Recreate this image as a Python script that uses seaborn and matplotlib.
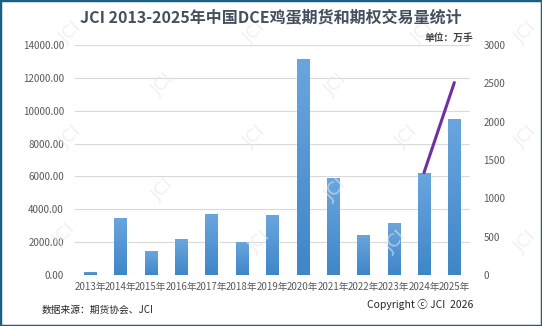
import numpy as np
import pandas as pd
import matplotlib
matplotlib.use("Agg")
import matplotlib.pyplot as plt
import seaborn as sns
from matplotlib.patches import Rectangle

years = ["2013年", "2014年", "2015年", "2016年", "2017年", "2018年", "2019年",
         "2020年", "2021年", "2022年", "2023年", "2024年", "2025年"]
futures = [200, 3470, 1460, 2190, 3710, 2010, 3650, 13130, 5900, 2450, 3180, 6210, 9500]
options = [np.nan] * 11 + [1335, 2510]
left_ticks = [0, 2000, 4000, 6000, 8000, 10000, 12000, 14000]
right_ticks = [0, 500, 1000, 1500, 2000, 2500, 3000]

sns.set_theme(style="white")
plt.rcParams['font.family'] = ['Noto Sans CJK SC', 'DejaVu Sans']

df = pd.DataFrame({"year": years, "futures": futures, "options": options})

fig = plt.figure(figsize=(5.42, 3.26), dpi=100)
ax = fig.add_axes([75 / 542, 1 - 275 / 326, (469.5 - 75) / 542, 230 / 326])

sns.barplot(data=df, x="year", y="futures", ax=ax, color="#5b9bd5", width=0.4,
            saturation=1, zorder=3)

# gradient fill on bars
grad = np.linspace(0, 1, 256).reshape(-1, 1)
from matplotlib.colors import LinearSegmentedColormap
cmap = LinearSegmentedColormap.from_list("g", ["#3f86c8", "#6aa6de"])
for p in ax.patches:
    x0, y0 = p.get_x(), p.get_y()
    w, h = p.get_width(), p.get_height()
    im = ax.imshow(grad, cmap=cmap, aspect="auto", origin="lower",
                   extent=[x0, x0 + w, y0, y0 + h], zorder=3.1)
    im.set_clip_path(p)
    p.set_alpha(1)

ax.set_xlim(-0.5, len(years) - 0.5)
ax.set_ylim(0, 14000)
ax.set_yticks(left_ticks)
ax.set_yticklabels([f"{v:.2f}" for v in left_ticks])
ax.grid(axis="y", color="#d9d9d9", linewidth=0.8, zorder=0)
ax.set_axisbelow(True)
for s in ax.spines.values():
    s.set_visible(False)
ax.set_xlabel("")
ax.set_ylabel("")
ax.tick_params(axis="both", length=0, labelsize=7, labelcolor="#595959")
ax.tick_params(axis="y", pad=8)
ax.tick_params(axis="x", pad=5)

ax2 = ax.twinx()
ax2.plot(np.arange(len(years)), df["options"], color="#7030a0", linewidth=2.2, zorder=5)
ax2.set_ylim(0, 3000)
ax2.set_yticks(right_ticks)
ax2.set_yticklabels([str(v) for v in right_ticks])
ax2.tick_params(axis="y", length=0, labelsize=7, labelcolor="#595959", pad=10)
for s in ax2.spines.values():
    s.set_visible(False)
ax2.grid(False)

# watermarks
for (wx, wy) in [(0.13, 0.9), (0.13, 0.58), (0.12, 0.28), (0.47, 0.9), (0.47, 0.58),
                 (0.48, 0.26), (0.78, 0.9), (0.75, 0.58), (0.73, 0.26), (0.97, 0.9), (0.97, 0.58),
                 (0.97, 0.26), (0.3, 0.74), (0.62, 0.74), (0.3, 0.42), (0.62, 0.42)]:
    fig.text(wx, wy, "JCI", rotation=45, fontsize=13, color="#e8e8e8", alpha=0.6,
             ha="center", va="center", zorder=0, family=["DejaVu Sans"])

fig.text(0.5, 1 - 17 / 326, "JCI 2013-2025年中国DCE鸡蛋期货和期权交易量统计",
         ha="center", va="center", fontsize=11.5, fontweight="bold", color="#44505f")
fig.text(473 / 542, 1 - 38 / 326, "单位：万手", ha="right", va="center",
         fontsize=7, color="#404040", fontweight="bold")
fig.text(42 / 542, 1 - 310 / 326, "数据来源：期货协会、JCI", ha="left", va="center",
         fontsize=7, color="#262626")
fig.text(473 / 542, 1 - 305 / 326, "Copyright ⓒ JCI  2026", ha="right", va="center",
         fontsize=7.5, color="#262626")

fig.patches.append(Rectangle((0, 0), 1, 1, transform=fig.transFigure, fill=False,
                             edgecolor="#1d5f84", linewidth=2.5, zorder=10))

fig.savefig("out.png", dpi=100)
